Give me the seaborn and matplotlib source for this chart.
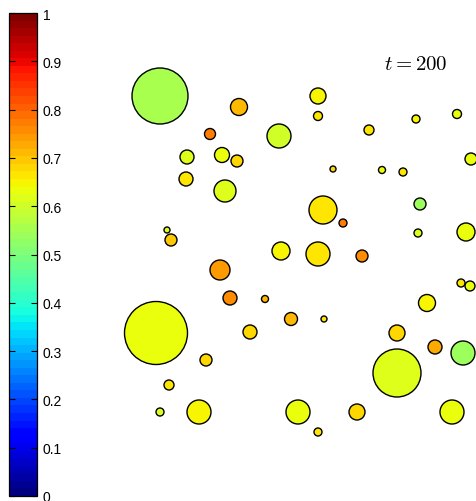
"""Bubble snapshot at t = 200, coloured by value on a jet colour bar."""

import numpy as np
import pandas as pd
import matplotlib
matplotlib.use("Agg")
import matplotlib.pyplot as plt
import seaborn as sns

# bubble centres (pixel-like units, y grows downwards), radii and values
x_pos = [160, 239, 210, 279, 187, 222, 237, 186, 225, 167, 171, 318, 318,
         416, 457, 369, 471, 333, 382, 403, 323, 343, 420, 418, 466, 281,
         220, 230, 265, 291, 156, 250, 206, 169, 160, 199, 318, 362, 461,
         470, 427, 324, 397, 435, 463, 397, 298, 357, 318, 452]
y_pos = [97, 108, 135, 137, 158, 156, 162, 180, 192, 231, 241, 97, 117,
         120, 115, 131, 160, 170, 171, 173, 211, 224, 205, 234, 233, 252,
         271, 299, 300, 320, 334, 333, 361, 386, 413, 413, 255, 257, 284,
         287, 304, 320, 334, 348, 354, 374, 413, 413, 433, 413]
radius = [28, 8.5, 5.5, 12, 7, 7.5, 6, 7, 11, 3, 6, 8, 4.5,
          4, 4.5, 5, 6, 3, 3.5, 4, 14, 4, 6, 4, 9, 9,
          10, 7, 3.5, 6.5, 31.5, 7, 6, 5, 4, 12, 12, 6, 4,
          5, 8.5, 3, 8, 7, 12, 24, 12, 8, 4, 12]
value = [0.56, 0.715, 0.775, 0.60, 0.62, 0.64, 0.68, 0.665, 0.62, 0.62,
         0.69, 0.655, 0.66, 0.655, 0.635, 0.67, 0.64, 0.68, 0.635, 0.67,
         0.664, 0.775, 0.54, 0.62, 0.635, 0.655, 0.748, 0.755, 0.707, 0.707,
         0.635, 0.68, 0.68, 0.665, 0.62, 0.655, 0.664, 0.764, 0.67, 0.64,
         0.655, 0.664, 0.68, 0.73, 0.54, 0.62, 0.64, 0.68, 0.664, 0.635]
cbar_ticks = [0, 0.1, 0.2, 0.3, 0.4, 0.5, 0.6, 0.7, 0.8, 0.9, 1]
cbar_labels = ["0", "0.1", "0.2", "0.3", "0.4", "0.5", "0.6", "0.7", "0.8",
               "0.9", "1"]

W, H = 476, 502
DPI = 100

df = pd.DataFrame({"x": x_pos, "y": y_pos, "r": radius, "v": value})
# marker area in pt^2 from radius in px
df["s"] = (2 * df["r"] * 72 / DPI) ** 2

cmap = plt.get_cmap("jet", 64)
norm = matplotlib.colors.Normalize(0, 1)

plt.rcParams["mathtext.fontset"] = "cm"
plt.rcParams["font.family"] = ["Liberation Sans", "DejaVu Sans"]
fig = plt.figure(figsize=(W / DPI, H / DPI), dpi=DPI)
ax = fig.add_axes([0, 0, 1, 1])
sns.scatterplot(data=df, x="x", y="y", hue="v", palette=cmap, hue_norm=norm,
                size="s", sizes=(df["s"].min(), df["s"].max()),
                size_norm=(df["s"].min(), df["s"].max()),
                edgecolor="black", linewidth=1.0, alpha=1, legend=False,
                ax=ax)
ax.set_xlim(0, W)
ax.set_ylim(H, 0)
ax.axis("off")
ax.text(416, 65, r"$t = 200$", fontsize=15, ha="center", va="center")

# colour bar
cax = fig.add_axes([9 / W, (H - 497) / H, 28 / W, 483 / H])
sm = matplotlib.cm.ScalarMappable(norm=norm, cmap=cmap)
cb = fig.colorbar(sm, cax=cax)
cb.set_ticks(cbar_ticks)
cb.set_ticklabels(cbar_labels)
cb.outline.set_linewidth(0.9)
cax.tick_params(axis="y", direction="in", left=True, right=True, length=4,
                width=0.8, labelsize=10, pad=4)

fig.savefig("out.png", dpi=DPI)
